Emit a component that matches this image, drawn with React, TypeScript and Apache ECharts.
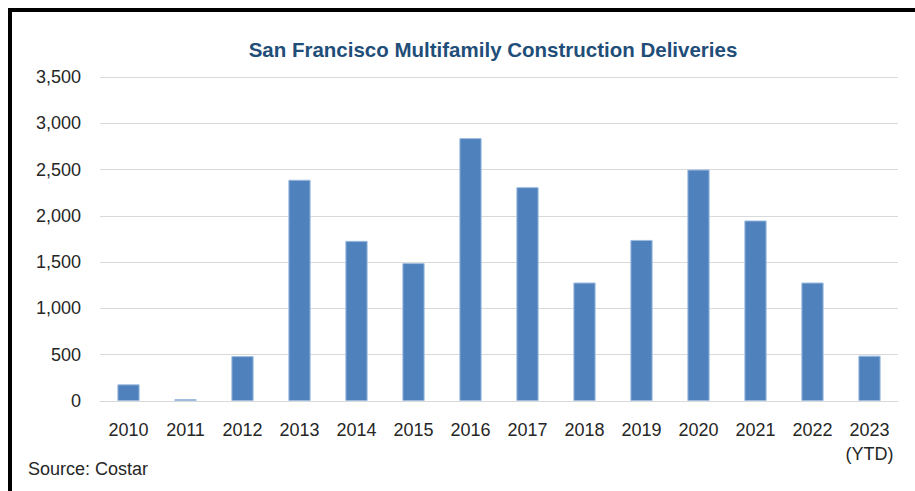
import React, { useEffect, useRef } from "react";
import * as echarts from "echarts";

const title = "San Francisco Multifamily Construction Deliveries";
const source = "Source: Costar";
const categories = ["2010", "2011", "2012", "2013", "2014", "2015", "2016", "2017", "2018", "2019", "2020", "2021", "2022", "2023\n(YTD)"];
const deliveries = [180, 20, 485, 2390, 1730, 1490, 2840, 2310, 1280, 1740, 2500, 1950, 1280, 490];
const yMax = 3500;
const yInterval = 500;

export default function App() {
  const ref = useRef<HTMLDivElement>(null);
  useEffect(() => {
    if (!ref.current) return;
    const chart = echarts.init(ref.current, null, { renderer: "svg" });
    const font = "'Liberation Sans', Arial, sans-serif";
    chart.setOption({
      animation: false,
      backgroundColor: "#ffffff",
      title: {
        text: title,
        left: 488,
        textAlign: "center",
        top: 34,
        textStyle: { fontFamily: font, fontSize: 20.5, fontWeight: "bold", color: "#1F4E79" },
      },
      grid: { left: 100, right: 17, top: 77, bottom: 90 },
      xAxis: {
        type: "category",
        data: categories,
        axisLine: { lineStyle: { color: "#d9d9d9", width: 1 } },
        axisTick: { show: false },
        axisLabel: { fontFamily: font, fontSize: 18, color: "#262626", margin: 17, lineHeight: 24, interval: 0 },
      },
      yAxis: {
        type: "value",
        min: 0,
        max: yMax,
        interval: yInterval,
        axisLine: { show: false },
        axisTick: { show: false },
        splitLine: { lineStyle: { color: "#d9d9d9", width: 1 } },
        axisLabel: {
          fontFamily: font,
          fontSize: 18,
          color: "#262626",
          margin: 19,
          formatter: (v: number) => v.toLocaleString("en-US"),
        },
      },
      series: [
        {
          type: "bar",
          data: deliveries,
          barWidth: "39%",
          itemStyle: { color: "#4F81BD", borderColor: "#9dbbe0", borderWidth: 1 },
        },
      ],
      graphic: [
        { type: "rect", shape: { x: 8, y: 8, width: 907, height: 4 }, style: { fill: "#000" } },
        { type: "rect", shape: { x: 8, y: 8, width: 4, height: 483 }, style: { fill: "#000" } },
        {
          type: "text",
          left: 28,
          top: 460,
          style: { text: source, fontFamily: font, fontSize: 18, fill: "#262626" },
        },
      ],
    });
    return () => chart.dispose();
  }, []);
  return <div ref={ref} style={{ position: "absolute", left: 0, top: 0, width: 915, height: 491 }} />;
}
